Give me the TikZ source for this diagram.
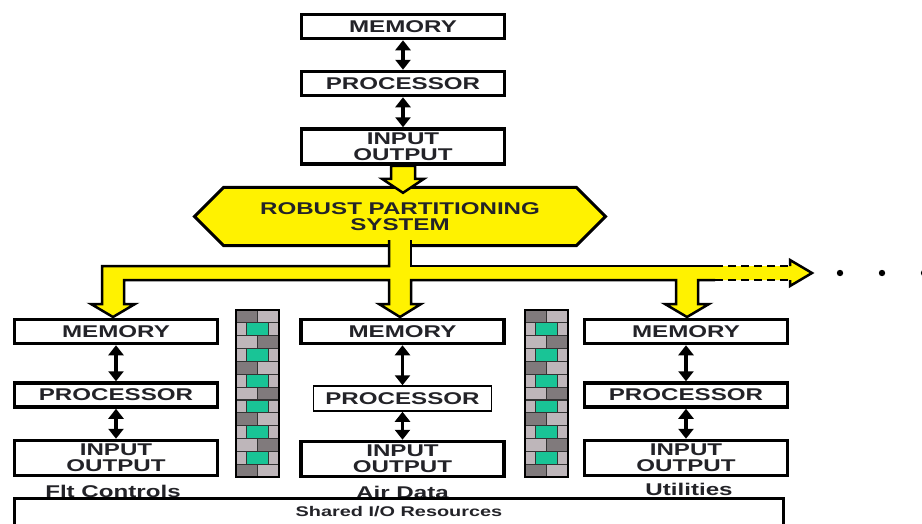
\documentclass[tikz,border=0pt]{standalone}
\usepackage{fontspec}
\newfontfamily\diafont[FakeStretch=1.42]{Liberation Sans}
\usetikzlibrary{arrows.meta,positioning,shapes.misc}
\definecolor{brdk}{RGB}{128,122,124}
\definecolor{brlt}{RGB}{190,182,186}
\definecolor{brgr}{RGB}{25,196,150}
\definecolor{txt}{RGB}{35,35,40}
\tikzset{
    box/.style={draw,line width=3.5pt,minimum width=203pt,minimum height=24pt,inner sep=0pt,
        font=\diafont\bfseries\fontsize{17}{16}\selectfont,text=txt,align=center},
    iobox/.style={minimum height=35pt},
    thinbox/.style={line width=1.5pt,minimum width=178pt,minimum height=25pt},
    rpsbox/.style={box,chamfered rectangle,chamfered rectangle xsep=16pt,chamfered rectangle ysep=15pt,
        fill=yellow,line width=3pt,minimum width=411pt,minimum height=44pt},
    lbl/.style={inner sep=0pt,font=\diafont\bfseries\fontsize{17}{16}\selectfont,text=txt},
    shared/.style={draw,line width=3pt,minimum width=769pt,minimum height=28pt,inner sep=0pt,
        font=\diafont\bfseries\fontsize{14}{14}\selectfont,text=txt},
    dbl/.style={line width=3.5pt,{Triangle[width=15pt,length=10pt]}-{Triangle[width=15pt,length=10pt]}},
    bus/.style={line width=2.5pt},
    brick/.style={draw=black!80,line width=1.2pt}
}
\begin{document}
\begin{tikzpicture}[x=1pt,y=-1pt]
    \useasboundingbox (0,0) rectangle (922,523);
    % top stack
    \node[box] (mem0) at (403,26.5) {MEMORY};
    \node[box] (pro0) at (403,83.5) {PROCESSOR};
    \node[box,iobox] (io0) at (403,146.5) {INPUT\\OUTPUT};
    \node[rpsbox] (rps) at (400,216.5) {ROBUST PARTITIONING\\SYSTEM};
    \draw[bus,fill=yellow] (io0.south) ++(-12,0) -- ++(0,13) -- ++(-9,0) -- ++(21,14)
        -- ++(21,-14) -- ++(-9,0) -- ++(0,-13) -- cycle;
    % partitions
    \node[box] (mem1) at (116,331.5) {MEMORY};
    \node[box] (pro1) at (116,395) {PROCESSOR};
    \node[box,iobox] (io1) at (116,458) {INPUT\\OUTPUT};
    \node[box] (mem2) at (402.5,331.5) {MEMORY};
    \node[box,thinbox] (pro2) at (402.5,398.5) {PROCESSOR};
    \node[box,iobox] (io2) at (402.5,459) {INPUT\\OUTPUT};
    \node[box] (mem3) at (686,331.5) {MEMORY};
    \node[box] (pro3) at (686,395) {PROCESSOR};
    \node[box,iobox] (io3) at (686,458) {INPUT\\OUTPUT};
    \foreach \n in {0,1,2,3} {
        \draw[dbl] (mem\n) -- (pro\n);
        \draw[dbl] (pro\n) -- (io\n);
    }
    \node[lbl,below=8pt of io1,xshift=-3pt] (lb1) {Flt Controls};
    \node[lbl,below=8pt of io2] (lb2) {Air Data};
    \node[lbl,below=6pt of io3,xshift=3pt] (lb3) {Utilities};
    % bus
    \fill[yellow] (389,240) -- (389,266) -- (102,266) -- (102,304) -- (91,304) -- (113,317)
        -- (135,304) -- (124,304) -- (124,280) -- (389,280) -- (389,304) -- (379,304)
        -- (400,317) -- (421,304) -- (411,304) -- (411,280) -- (676,280) -- (676,304)
        -- (665,304) -- (687,317) -- (709,304) -- (698,304) -- (698,280) -- (790,280)
        -- (790,286) -- (812,273) -- (790,260) -- (790,266) -- (411,266) -- (411,240) -- cycle;
    \draw[bus] (715,266) -- (411,266) -- (411,240);
    \draw[bus] (389,240) -- (389,266) -- (102,266) -- (102,304) -- (91,304) -- (113,317)
        -- (135,304) -- (124,304) -- (124,280) -- (389,280) -- (389,304) -- (379,304)
        -- (400,317) -- (421,304) -- (411,304) -- (411,280) -- (676,280) -- (676,304)
        -- (665,304) -- (687,317) -- (709,304) -- (698,304) -- (698,280) -- (715,280);
    \draw[bus,dash pattern=on 8pt off 5pt] (715,266) -- (790,266) (715,280) -- (790,280);
    \draw[bus] (790,280) -- (790,286) -- (812,273) -- (790,260) -- (790,266);
    \foreach \dx in {840,882,924}
        \fill (\dx,273) circle (3.2pt);
    % brick walls
    \foreach \wx in {236,525} {
        \foreach \r/\cl/\cr in {0/brdk/brlt,2/brlt/brdk,4/brdk/brlt,6/brlt/brdk,8/brdk/brlt,10/brlt/brdk,12/brdk/brlt} {
            \draw[brick,fill=\cl] (\wx,310+\r*12.85) rectangle ++(21.5,12.85);
            \draw[brick,fill=\cr] (\wx+21.5,310+\r*12.85) rectangle ++(21.5,12.85);
        }
        \foreach \r in {1,3,...,11} {
            \draw[brick,fill=brlt] (\wx,310+\r*12.85) rectangle ++(10.75,12.85);
            \draw[brick,fill=brgr] (\wx+10.75,310+\r*12.85) rectangle ++(21.5,12.85);
            \draw[brick,fill=brlt] (\wx+32.25,310+\r*12.85) rectangle ++(10.75,12.85);
        }
        \draw[line width=2pt] (\wx,310) rectangle ++(43,167);
    }
    % shared resources
    \node[shared] (shio) at (399,512) {Shared I/O Resources};
\end{tikzpicture}
\end{document}
